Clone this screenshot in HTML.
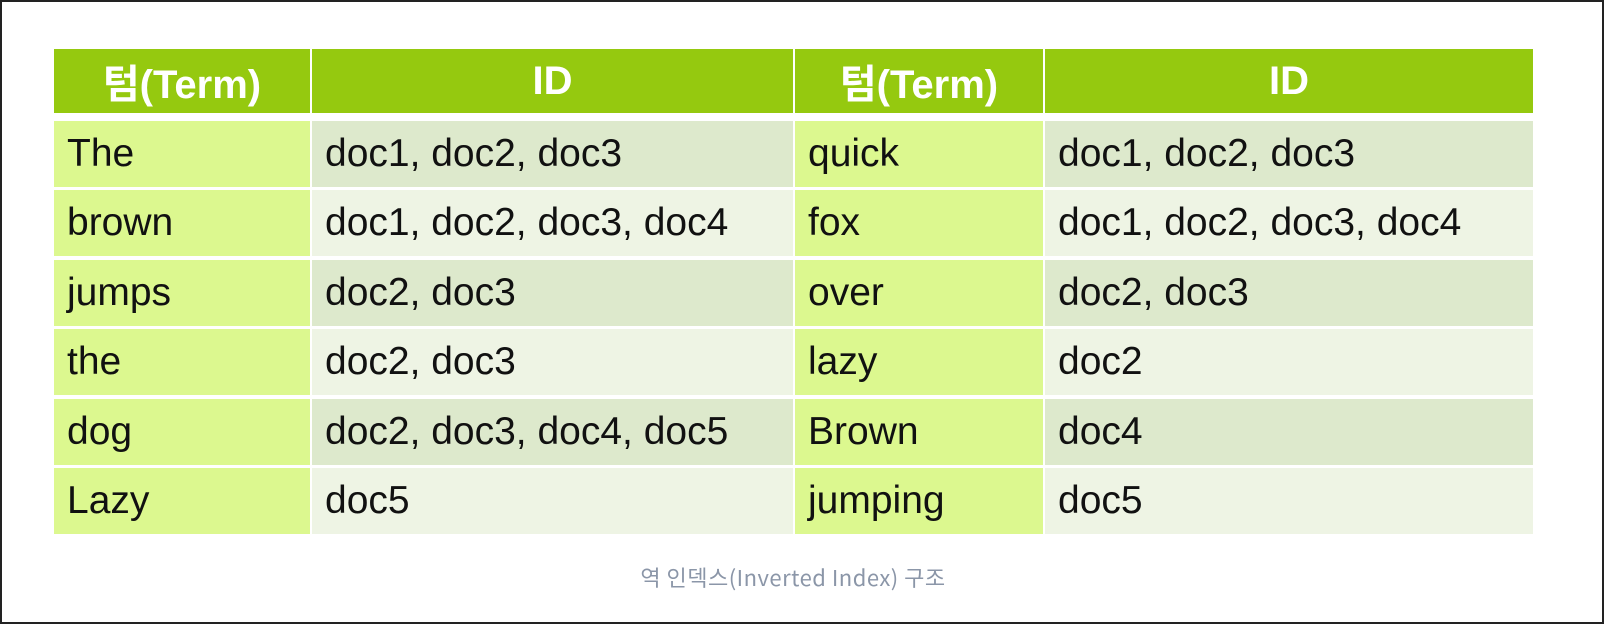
<!DOCTYPE html>
<html><head><meta charset="utf-8"><style>
html,body{margin:0;padding:0;background:#fff}
body{width:1604px;height:624px;position:relative;overflow:hidden;font-family:"Liberation Sans","Noto Sans CJK KR",sans-serif}
.frame{position:absolute;left:0;top:0;width:1600px;height:620px;border:2px solid #222}
.c{position:absolute;box-sizing:border-box;display:flex;align-items:center;font-size:39px;color:#111;padding-left:13px}
.h{background:#95c90f;color:#fff;font-weight:bold;justify-content:center;padding:0;font-size:40px}
.t{background:#dcf88f}
.a{background:#dde9cc}
.b{background:#eef4e4}
.cap{position:absolute;left:0;width:1586px;top:561px;text-align:center;font-size:22px;letter-spacing:0.5px;color:#8b96a8;font-family:"Noto Sans CJK KR",sans-serif}
</style></head><body>
<div class="frame"></div>
<div class="c h" style="left:54px;top:49px;width:256px;height:64px">텀(Term)</div>
<div class="c h" style="left:312px;top:49px;width:481px;height:64px">ID</div>
<div class="c h" style="left:795px;top:49px;width:248px;height:64px">텀(Term)</div>
<div class="c h" style="left:1045px;top:49px;width:488px;height:64px">ID</div>
<div id="rows"></div>
<div class="cap">역 인덱스(Inverted Index) 구조</div>
<script>
var d=[["The","doc1, doc2, doc3","quick","doc1, doc2, doc3"],["brown","doc1, doc2, doc3, doc4","fox","doc1, doc2, doc3, doc4"],["jumps","doc2, doc3","over","doc2, doc3"],["the","doc2, doc3","lazy","doc2"],["dog","doc2, doc3, doc4, doc5","Brown","doc4"],["Lazy","doc5","jumping","doc5"]];
var h="";
var xs=[[54,256],[312,481],[795,248],[1045,488]];
d.forEach(function(r,i){var y=Math.round(121+i*69.4);var cl=i%2?"b":"a";
r.forEach(function(t,j){h+='<div class="c '+(j%2?cl:"t")+'" style="left:'+xs[j][0]+'px;top:'+y+'px;width:'+xs[j][1]+'px;height:66px">'+t+'</div>';});});
document.getElementById("rows").innerHTML=h;
</script>
</body></html>
